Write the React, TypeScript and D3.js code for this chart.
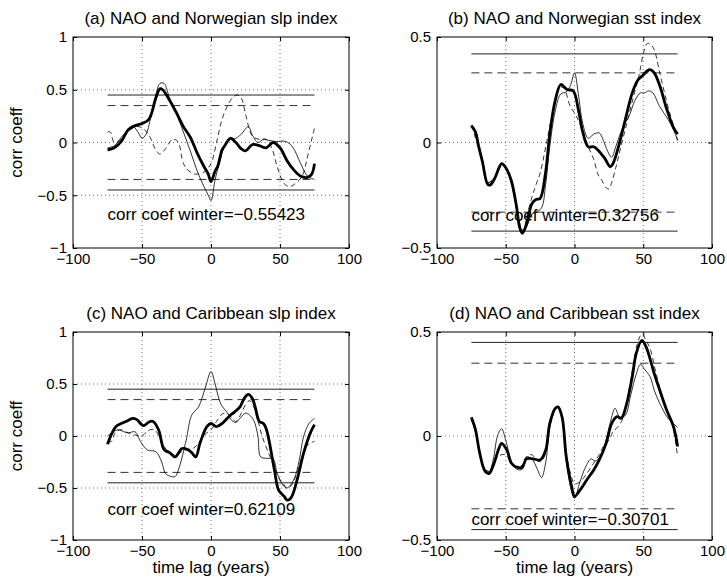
import React, { useRef, useEffect } from "react";
import * as d3 from "d3";

const FONT = "'Liberation Sans', Arial, Helvetica, sans-serif";

// tick values
const xTicks = [-100, -50, 0, 50, 100];
const slpTicks = [-1, -0.5, 0, 0.5, 1];
const sstTicks = [-0.5, 0, 0.5];

// significance levels [solid, dashed]
const levelsNorSlp = [0.45, 0.35];
const levelsNorSst = [0.42, 0.33];
const levelsCarSlp = [0.45, 0.35];
const levelsCarSst = [0.45, 0.35];

// (a) NAO and Norwegian slp index  -- [lag, corr]
const norSlpThick = [[-75,-0.07],[-70,-0.05],[-65,0.01],[-60,0.12],[-55,0.16],[-50,0.18],[-45,0.22],[-40,0.42],[-37,0.51],[-35,0.5],[-30,0.4],[-25,0.28],[-20,0.15],[-15,0.05],[-10,-0.1],[-5,-0.23],[-2,-0.3],[0,-0.37],[3,-0.27],[5,-0.22],[8,-0.07],[10,-0.03],[14,0.04],[18,0.0],[22,-0.06],[25,-0.08],[30,-0.02],[35,-0.03],[40,-0.05],[45,0.0],[50,-0.05],[55,-0.17],[60,-0.26],[65,-0.32],[70,-0.33],[73,-0.3],[75,-0.2]];
const norSlpThin = [[-75,-0.05],[-70,-0.03],[-65,0.05],[-60,0.12],[-57,0.16],[-53,0.1],[-50,0.04],[-47,0.08],[-43,0.28],[-40,0.45],[-37,0.56],[-34,0.56],[-30,0.42],[-25,0.27],[-20,0.1],[-15,-0.08],[-10,-0.27],[-5,-0.42],[-2,-0.5],[0,-0.55],[3,-0.35],[6,-0.2],[10,-0.03],[14,0.03],[18,0.04],[22,0.08],[27,0.15],[30,0.07],[34,0.0],[38,0.03],[42,0.02],[47,0.01],[54,0.01],[59,-0.04],[65,-0.2],[70,-0.32],[75,-0.35]];
const norSlpDash = [[-75,0.1],[-73,0.1],[-70,0.0],[-65,0.03],[-60,0.1],[-55,0.15],[-50,0.14],[-45,0.07],[-40,-0.07],[-37,-0.11],[-33,-0.06],[-28,0.03],[-24,0.01],[-20,-0.2],[-16,-0.27],[-11,-0.3],[-5,-0.28],[0,-0.2],[4,0.0],[8,0.22],[12,0.35],[16,0.43],[19,0.45],[22,0.42],[25,0.27],[30,0.06],[35,0.03],[40,0.03],[44,-0.05],[48,-0.23],[53,-0.39],[57,-0.42],[61,-0.39],[66,-0.32],[70,-0.13],[75,0.14]];

// (b) NAO and Norwegian sst index
const norSstThick = [[-75,0.08],[-72,0.05],[-70,-0.01],[-67,-0.09],[-63,-0.2],[-61,-0.2],[-58,-0.17],[-53,-0.1],[-50,-0.12],[-46,-0.18],[-42,-0.31],[-40,-0.4],[-38,-0.43],[-35,-0.39],[-31,-0.29],[-28,-0.27],[-25,-0.265],[-21,-0.14],[-18,0.04],[-14,0.2],[-10,0.275],[-7,0.26],[-5,0.25],[-1,0.245],[3,0.15],[6,0.05],[10,-0.02],[14,-0.02],[17,-0.035],[22,-0.075],[26,-0.115],[28,-0.1],[32,-0.02],[37,0.11],[42,0.235],[46,0.295],[50,0.32],[53,0.34],[55,0.345],[58,0.33],[62,0.27],[67,0.16],[72,0.07],[75,0.04]];
const norSstThin = [[-75,0.08],[-72,0.04],[-70,-0.01],[-67,-0.08],[-63,-0.19],[-60,-0.18],[-57,-0.16],[-53,-0.1],[-50,-0.12],[-46,-0.18],[-42,-0.31],[-40,-0.39],[-38,-0.42],[-35,-0.4],[-31,-0.34],[-28,-0.33],[-24,-0.31],[-21,-0.2],[-18,-0.02],[-14,0.15],[-10,0.23],[-6,0.24],[-3,0.27],[0,0.33],[3,0.22],[6,0.09],[10,0.02],[14,0.04],[18,0.045],[21,0.01],[24,-0.04],[27,-0.07],[30,-0.02],[35,0.07],[40,0.13],[44,0.2],[48,0.235],[51,0.235],[54,0.245],[57,0.235],[62,0.17],[68,0.11],[72,0.06],[75,0.01]];
const norSstDash = [[-75,0.08],[-70,-0.02],[-67,-0.09],[-63,-0.19],[-60,-0.18],[-55,-0.13],[-52,-0.1],[-50,-0.12],[-46,-0.19],[-42,-0.32],[-39,-0.4],[-37,-0.42],[-35,-0.36],[-31,-0.26],[-28,-0.2],[-25,-0.145],[-20,0.01],[-15,0.17],[-11,0.26],[-8,0.26],[-3,0.17],[1,0.13],[5,0.07],[10,-0.02],[14,-0.08],[17,-0.15],[20,-0.18],[23,-0.215],[25,-0.22],[27,-0.19],[30,-0.12],[33,-0.04],[38,0.09],[43,0.22],[47,0.32],[50,0.42],[53,0.47],[56,0.46],[58,0.44],[62,0.33],[68,0.17],[72,0.08],[75,0.01]];

// (c) NAO and Caribbean slp index
const carSlpThick = [[-75,-0.08],[-72,0.02],[-69,0.09],[-65,0.12],[-60,0.15],[-57,0.17],[-54,0.16],[-49,0.1],[-45,0.135],[-42,0.14],[-38,0.06],[-34,-0.13],[-30,-0.16],[-26,-0.2],[-21,-0.12],[-17,-0.13],[-14,-0.16],[-11,-0.2],[-8,-0.07],[-3,0.09],[0,0.12],[4,0.09],[8,0.12],[14,0.2],[17,0.23],[21,0.28],[24,0.36],[27,0.4],[30,0.36],[32,0.28],[35,0.14],[38,0.12],[40,0.07],[42,-0.04],[46,-0.33],[49,-0.52],[53,-0.58],[55,-0.615],[57,-0.61],[59,-0.57],[63,-0.39],[67,-0.17],[72,0.03],[75,0.11]];
const carSlpThin = [[-75,0.0],[-71,0.04],[-67,0.06],[-63,0.04],[-60,0.03],[-55,0.04],[-51,-0.055],[-46,-0.135],[-40,-0.15],[-36,-0.24],[-33,-0.36],[-30,-0.385],[-26,-0.39],[-23,-0.3],[-18,-0.04],[-14,0.2],[-9,0.28],[-4,0.47],[0,0.62],[3,0.5],[7,0.31],[12,0.22],[15,0.15],[18,0.13],[21,0.17],[25,0.22],[28,0.2],[31,0.15],[34,0.0],[36,-0.2],[41,-0.215],[45,-0.22],[48,-0.36],[52,-0.47],[55,-0.5],[60,-0.42],[64,-0.23],[67,-0.01],[71,0.12],[75,0.17]];
const carSlpDash = [[-75,-0.06],[-72,-0.05],[-69,0.04],[-65,0.06],[-60,0.03],[-55,0.01],[-50,0.0],[-46,0.05],[-41,0.06],[-37,-0.02],[-33,-0.12],[-29,-0.17],[-25,-0.18],[-21,-0.15],[-17,-0.13],[-13,-0.12],[-9,-0.07],[-4,0.02],[0,0.06],[4,0.14],[8,0.21],[11,0.22],[15,0.18],[18,0.14],[22,0.22],[25,0.3],[28,0.34],[31,0.28],[34,0.15],[37,0.0],[41,-0.14],[45,-0.27],[49,-0.4],[52,-0.45],[55,-0.5],[58,-0.48],[61,-0.4],[65,-0.24],[69,-0.1],[72,-0.07],[75,-0.05]];

// (d) NAO and Caribbean sst index
const carSstThick = [[-75,0.09],[-72,0.03],[-69,-0.08],[-65,-0.17],[-62,-0.18],[-59,-0.14],[-55,-0.06],[-53,-0.035],[-49,-0.07],[-46,-0.13],[-42,-0.15],[-38,-0.15],[-35,-0.11],[-30,-0.11],[-25,-0.115],[-21,-0.07],[-18,0.06],[-14,0.133],[-12,0.14],[-9,0.09],[-6,-0.1],[-2,-0.245],[0,-0.29],[4,-0.26],[9,-0.21],[14,-0.163],[18,-0.115],[23,-0.035],[27,0.06],[31,0.093],[34,0.085],[38,0.157],[42,0.285],[45,0.4],[49,0.46],[52,0.43],[55,0.37],[58,0.3],[62,0.22],[67,0.125],[72,0.045],[75,-0.05]];
const carSstThin = [[-75,0.08],[-72,0.02],[-69,-0.08],[-65,-0.16],[-62,-0.17],[-59,-0.11],[-56,0.0],[-53,0.035],[-50,-0.02],[-46,-0.12],[-42,-0.16],[-38,-0.16],[-35,-0.1],[-31,-0.11],[-27,-0.16],[-24,-0.2],[-21,-0.13],[-18,0.04],[-14,0.13],[-12,0.14],[-9,0.09],[-6,-0.12],[-2,-0.27],[0,-0.3],[4,-0.22],[8,-0.15],[12,-0.11],[15,-0.12],[19,-0.1],[23,-0.02],[27,0.09],[29.5,0.133],[33,0.09],[37,0.1],[41,0.2],[45,0.3],[48,0.345],[51,0.32],[55,0.285],[58,0.22],[62,0.157],[68,0.085],[72,0.06],[75,0.04]];
const carSstDash = [[-75,0.08],[-72,0.02],[-69,-0.08],[-65,-0.16],[-62,-0.17],[-59,-0.14],[-56,-0.1],[-53,-0.09],[-50,-0.09],[-46,-0.13],[-42,-0.15],[-38,-0.14],[-35,-0.1],[-31,-0.09],[-27,-0.12],[-24,-0.12],[-21,-0.08],[-18,0.05],[-14,0.13],[-12,0.14],[-9,0.09],[-6,-0.09],[-2,-0.2],[0,-0.23],[4,-0.22],[9,-0.18],[14,-0.13],[18,-0.09],[21,-0.05],[25,-0.02],[28,0.02],[31,0.04],[35,0.08],[39,0.2],[43,0.35],[46,0.45],[49,0.49],[52,0.46],[55,0.42],[59,0.31],[63,0.21],[67,0.13],[71,0.06],[75,-0.1]];

const Panel = ({ left, top, width, height, title, yDomain, yTicks, levels,
                 thick, thin, dashed, note, noteY, xLabel, yLabel }) => {

	const ref = useRef(null);

	useEffect(() => {

		let g = d3.select(ref.current);
		g.selectAll("*").remove();

		let xScale = d3.scaleLinear().domain([-100, 100]).range([0, width]);
		let yScale = d3.scaleLinear().domain(yDomain).range([height, 0]);

		g.append("rect")
			.attr("width", width)
			.attr("height", height)
			.attr("fill", "white");

		// dotted grid
		g.selectAll(".vgrid")
			.data(xTicks.slice(1, -1))
			.join("line")
			.attr("x1", d => xScale(d)).attr("x2", d => xScale(d))
			.attr("y1", 0).attr("y2", height)
			.attr("stroke", "#555").attr("stroke-width", 0.8)
			.attr("stroke-dasharray", "1,3");

		g.selectAll(".hgrid")
			.data(yTicks.slice(1, -1))
			.join("line")
			.attr("y1", d => yScale(d)).attr("y2", d => yScale(d))
			.attr("x1", 0).attr("x2", width)
			.attr("stroke", "#555").attr("stroke-width", 0.8)
			.attr("stroke-dasharray", "1,3");

		let line = d3.line()
			.x(d => xScale(d[0]))
			.y(d => yScale(d[1]))
			.curve(d3.curveCatmullRom.alpha(0.5));

		// significance levels
		for (let s of [1, -1]) {
			g.append("path")
				.attr("d", line([[-75, s * levels[0]], [75, s * levels[0]]]))
				.attr("stroke", "#222").attr("stroke-width", 1).attr("fill", "none");
			g.append("path")
				.attr("d", line([[-75, s * levels[1]], [75, s * levels[1]]]))
				.attr("stroke", "#333").attr("stroke-width", 1).attr("fill", "none")
				.attr("stroke-dasharray", "8,5");
		}

		g.append("path").attr("d", line(dashed))
			.attr("fill", "none").attr("stroke", "black")
			.attr("stroke-width", 0.8).attr("stroke-dasharray", "5,3.5");

		g.append("path").attr("d", line(thin))
			.attr("fill", "none").attr("stroke", "black")
			.attr("stroke-width", 0.8);

		g.append("path").attr("d", line(thick))
			.attr("fill", "none").attr("stroke", "black")
			.attr("stroke-width", 2.8).attr("stroke-linejoin", "round");

		g.append("text")
			.attr("x", xScale(-75))
			.attr("y", yScale(noteY))
			.attr("font-family", FONT)
			.attr("font-size", 17)
			.text(note);

		// axes with inward ticks
		let fmt = d3.format("");
		let blank = () => "";

		let xAxis = g.append("g")
			.attr("transform", `translate(0, ${height})`)
			.call(d3.axisBottom(xScale).tickValues(xTicks).tickSizeInner(-4).tickSizeOuter(0).tickPadding(5).tickFormat(fmt));
		let yAxis = g.append("g")
			.call(d3.axisLeft(yScale).tickValues(yTicks).tickSizeInner(-4).tickSizeOuter(0).tickPadding(6).tickFormat(fmt));
		g.append("g")
			.call(d3.axisTop(xScale).tickValues(xTicks).tickSizeInner(-4).tickSizeOuter(0).tickFormat(blank));
		g.append("g")
			.attr("transform", `translate(${width}, 0)`)
			.call(d3.axisRight(yScale).tickValues(yTicks).tickSizeInner(-4).tickSizeOuter(0).tickFormat(blank));

		g.selectAll(".domain").remove();
		g.selectAll(".tick line").attr("stroke", "black");
		for (let a of [xAxis, yAxis]) {
			a.selectAll("text")
				.attr("font-family", FONT)
				.attr("font-size", 15)
				.attr("fill", "black");
		}

		g.append("rect")
			.attr("width", width)
			.attr("height", height)
			.attr("fill", "none")
			.attr("stroke", "black")
			.attr("stroke-width", 1);

		g.append("text")
			.attr("x", width / 2)
			.attr("y", -13)
			.attr("text-anchor", "middle")
			.attr("font-family", FONT)
			.attr("font-size", 17)
			.text(title);

		if (xLabel) {
			g.append("text")
				.attr("x", width / 2)
				.attr("y", height + 33)
				.attr("text-anchor", "middle")
				.attr("font-family", FONT)
				.attr("font-size", 17)
				.text(xLabel);
		}

		if (yLabel) {
			g.append("text")
				.attr("transform", `translate(${22 - left}, ${height / 2}) rotate(-90)`)
				.attr("text-anchor", "middle")
				.attr("font-family", FONT)
				.attr("font-size", 17)
				.text(yLabel);
		}

	}, []);

	return <g ref={ref} transform={`translate(${left}, ${top})`} />;
};

export default function App() {
	return (
		<svg width={727} height={585} style={{ position: "absolute", left: 0, top: 0, background: "white" }}>
			<Panel left={73} top={37} width={276} height={211}
				title="(a) NAO and Norwegian slp index"
				yDomain={[-1, 1]} yTicks={slpTicks} levels={levelsNorSlp}
				thick={norSlpThick} thin={norSlpThin} dashed={norSlpDash}
				note="corr coef winter=−0.55423" noteY={-0.73}
				yLabel="corr coeff" />
			<Panel left={437} top={37} width={275} height={211}
				title="(b) NAO and Norwegian sst index"
				yDomain={[-0.5, 0.5]} yTicks={sstTicks} levels={levelsNorSst}
				thick={norSstThick} thin={norSstThin} dashed={norSstDash}
				note="corr coef winter=0.32756" noteY={-0.37} />
			<Panel left={73} top={332} width={276} height={208}
				title="(c) NAO and Caribbean slp index"
				yDomain={[-1, 1]} yTicks={slpTicks} levels={levelsCarSlp}
				thick={carSlpThick} thin={carSlpThin} dashed={carSlpDash}
				note="corr coef winter=0.62109" noteY={-0.76}
				xLabel="time lag (years)" yLabel="corr coeff" />
			<Panel left={437} top={332} width={275} height={208}
				title="(d) NAO and Caribbean sst index"
				yDomain={[-0.5, 0.5]} yTicks={sstTicks} levels={levelsCarSst}
				thick={carSstThick} thin={carSstThin} dashed={carSstDash}
				note="corr coef winter=−0.30701" noteY={-0.43}
				xLabel="time lag (years)" />
		</svg>
	);
}
